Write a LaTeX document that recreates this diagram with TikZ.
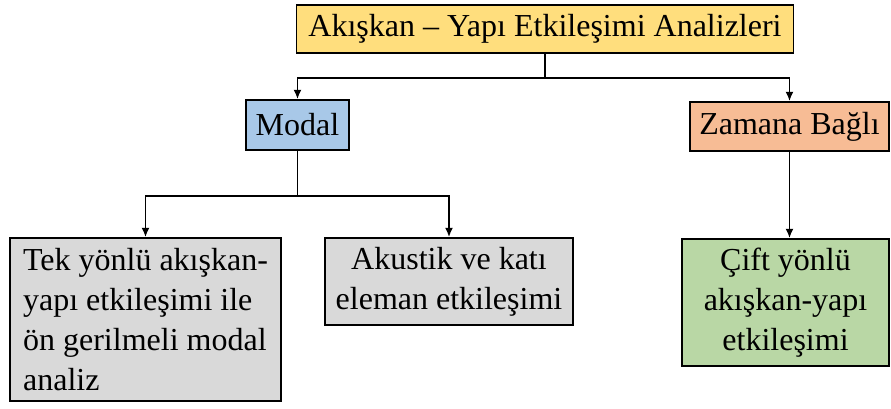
\documentclass[tikz,border=0pt]{standalone}
\usepackage{fontspec}
\setmainfont{Liberation Serif}
\usetikzlibrary{arrows.meta, positioning}

\begin{document}
\begin{tikzpicture}[
    x=0.75pt, y=-0.75pt,
    every node/.style={align=center, font=\rmfamily\fontsize{24}{30}\selectfont},
    box/.style={rectangle, draw=black, line width=1.3pt, inner sep=0pt},
    link/.style={line width=1.3pt, -{Latex[length=7pt, width=6pt]}}
]
\useasboundingbox (0,0) rectangle (891,408);

% Nodes
\node[box, fill={rgb,255:red,255;green,222;blue,125}, minimum width=372.75pt, minimum height=36pt] (fsi) at (545,29) {Akışkan – Yapı Etkileşimi Analizleri};

\node[box, fill={rgb,255:red,168;green,200;blue,232}, minimum width=77.25pt, minimum height=37.5pt] (modal) at (297.5,125) {Modal};
\node[box, fill={rgb,255:red,247;green,188;blue,149}, minimum width=149.25pt, minimum height=36.75pt] (transient) at (789.5,126.5) {Zamana Bağlı};

\node[box, fill={rgb,255:red,217;green,217;blue,217}, minimum width=203.25pt, minimum height=122.25pt, align=left] (oneway) at (145.5,319.5) {Tek yönlü akışkan-\\yapı etkileşimi ile\\ön gerilmeli modal\\analiz};
\node[box, fill={rgb,255:red,217;green,217;blue,217}, minimum width=186pt, minimum height=65.25pt] (acoustic) at (449,281.5) {Akustik ve katı\\eleman etkileşimi};
\node[box, fill={rgb,255:red,185;green,215;blue,165}, minimum width=155.25pt, minimum height=95.25pt] (twoway) at (785.5,302.5) {Çift yönlü\\akışkan-yapı\\etkileşimi};

% Edges
\draw[link] (fsi.south) -- ++(0,24) -| (modal.north);
\draw[link] (fsi.south) -- ++(0,24) -| (transient.north);
\draw[link] (modal.south) -- ++(0,45) -| (oneway.north);
\draw[link] (modal.south) -- ++(0,45) -| (acoustic.north);
\draw[link] (transient.south) -- (transient.south |- twoway.north);

\end{tikzpicture}
\end{document}
